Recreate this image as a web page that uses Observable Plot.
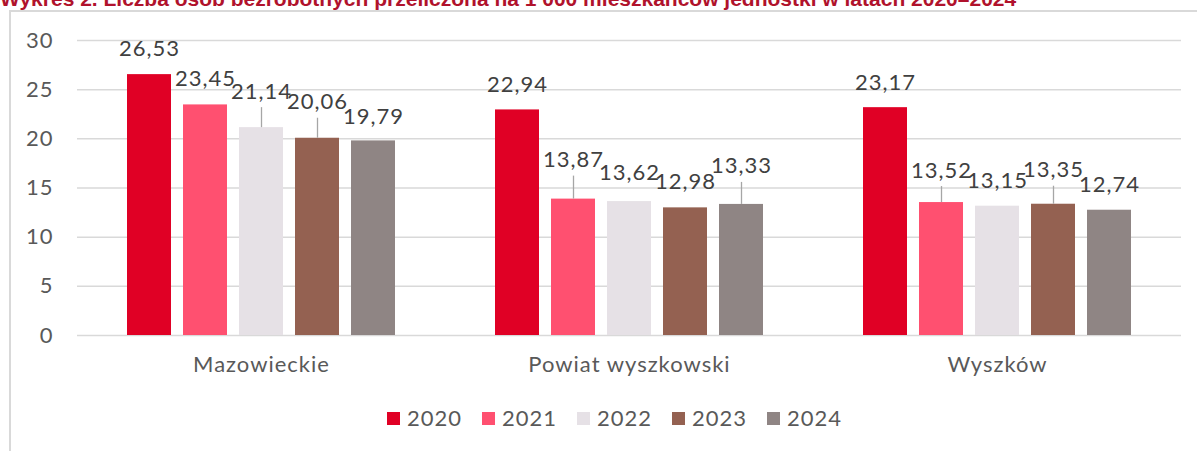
<!DOCTYPE html>
<html><head><meta charset="utf-8">
<script src="https://cdn.jsdelivr.net/npm/d3@7"></script>
<script src="https://cdn.jsdelivr.net/npm/@observablehq/plot@0.6"></script>
<style>
html,body{margin:0;padding:0;background:#fff;width:1197px;height:451px;overflow:hidden;position:relative;font-family:Lato,sans-serif;}
#title{position:absolute;left:0;top:-12px;font:bold 21px "Liberation Sans",Arial,sans-serif;color:#b0122c;white-space:nowrap;line-height:1;}
#frame{position:absolute;left:9px;top:10px;width:1300px;height:600px;border-left:2px solid #d9d9d9;border-top:2px solid #d9d9d9;pointer-events:none;}
#chart{position:absolute;left:0;top:0;}
#legend{position:absolute;left:387px;top:406px;display:flex;}
.item{width:95px;display:flex;align-items:center;font-size:22px;letter-spacing:1px;color:#595959;line-height:24px;}
.sw{width:13px;height:13px;margin-right:7px;flex:none;}
</style></head><body>
<div id="title">Wykres 2. Liczba osób bezrobotnych przeliczona na 1 000 mieszkańców jednostki w latach 2020–2024</div>
<div id="chart"></div>
<div id="frame"></div>
<div id="legend"></div>
<script>
const regions = ["Mazowieckie", "Powiat wyszkowski", "Wyszków"];
const years = ["2020", "2021", "2022", "2023", "2024"];
const valuesMazowieckie = [26.53, 23.45, 21.14, 20.06, 19.79];
const valuesPowiat = [22.94, 13.87, 13.62, 12.98, 13.33];
const valuesWyszkow = [23.17, 13.52, 13.15, 13.35, 12.74];
const yTicks = [0, 5, 10, 15, 20, 25, 30];
const colors = ["#e00025", "#ff5070", "#e6e1e6", "#946151", "#8f8584"];
// label placement (pixels above bar top) and leader line lengths
const labelLift = [[26, 26, 36, 36, 24], [25, 39, 29, 26, 38], [25, 32, 25, 34, 25]];
const leaderLen = [[0, 0, 20, 20, 0], [0, 23, 0, 0, 22], [0, 16, 0, 18, 0]];

const series = [valuesMazowieckie, valuesPowiat, valuesWyszkow];
const rows = [];
regions.forEach((r, ri) => years.forEach((y, yi) => rows.push({
  region: r, year: y, value: series[ri][yi],
  label: series[ri][yi].toFixed(2).replace(".", ","),
  lift: labelLift[ri][yi], lead: leaderLen[ri][yi]
})));

const labelMarks = rows.map(d => Plot.text([d], {
  fx: "region", x: "year", y: "value", text: "label",
  dy: -d.lift, fontSize: 22, fill: "#404040", lineAnchor: "middle"
}));
const leaderMarks = rows.filter(d => d.lead > 0).map(d => Plot.ruleX([d], {
  fx: "region", x: "year", y1: "value", y2: "value",
  insetTop: -d.lead / 2, insetBottom: -d.lead / 2, dy: -d.lead / 2,
  stroke: "#a6a6a6", strokeWidth: 1.3
}));

const chart = Plot.plot({
  width: 1197, height: 395,
  marginLeft: 77, marginRight: 16, marginTop: 40, marginBottom: 60,
  style: {fontFamily: "Lato, sans-serif", fontSize: "22px", letterSpacing: "1px", color: "#595959", background: "none", overflow: "visible"},
  fx: {domain: regions, padding: 0, axis: "bottom", tickSize: 0, tickPadding: 21, label: null},
  x: {domain: years, paddingInner: 0.221, paddingOuter: 0.867, axis: null},
  y: {domain: [0, 30], axis: null},
  color: {domain: years, range: colors},
  marks: [
    Plot.gridY(yTicks, {stroke: "#d9d9d9", strokeOpacity: 1, strokeWidth: 1.5}),
    Plot.axisY(yTicks, {tickSize: 0, tickPadding: 24, label: null, fontSize: 22, fill: "#595959"}),
    Plot.barY(rows, {fx: "region", x: "year", y: "value", fill: "year"}),
    ...leaderMarks,
    ...labelMarks
  ]
});
document.getElementById("chart").appendChild(chart);

const legend = document.getElementById("legend");
years.forEach((y, i) => {
  const it = document.createElement("div");
  it.className = "item";
  const sw = document.createElement("span");
  sw.className = "sw";
  sw.style.background = colors[i];
  it.appendChild(sw);
  it.appendChild(document.createTextNode(y));
  legend.appendChild(it);
});
</script>
</body></html>
